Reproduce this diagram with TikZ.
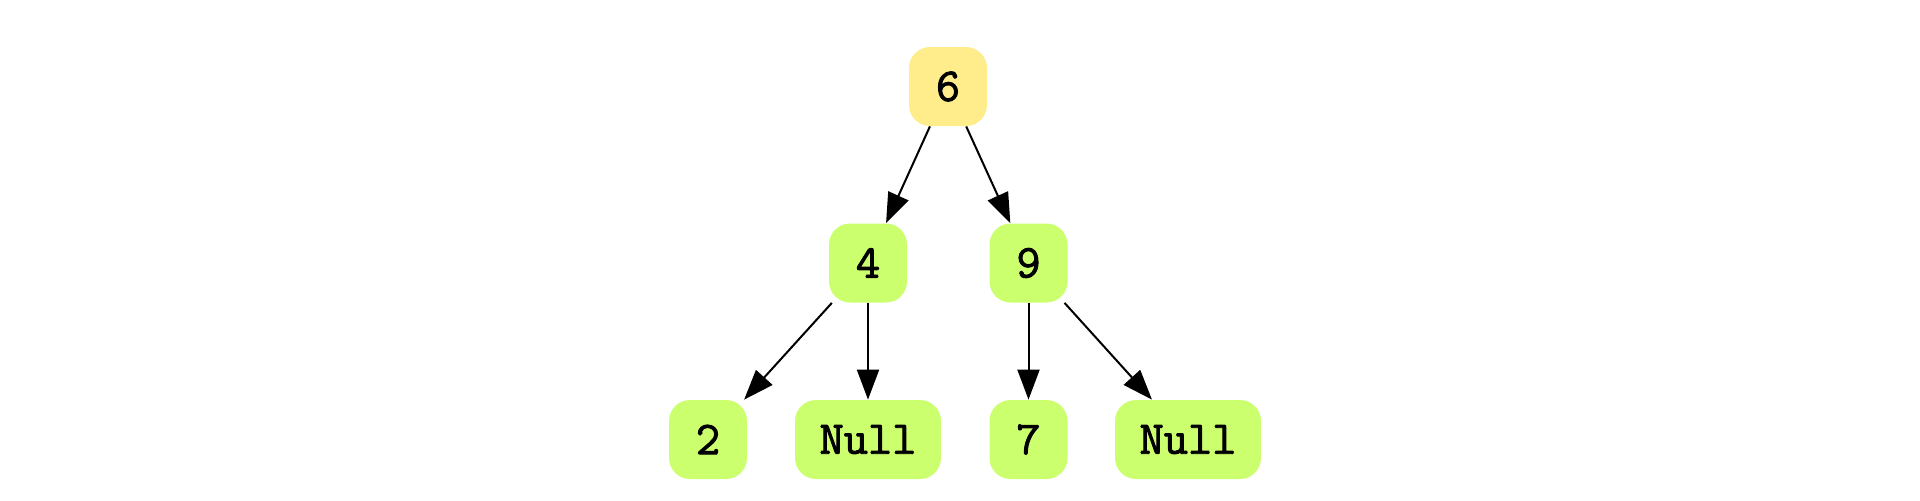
\documentclass[tikz,border=0pt]{standalone}
\usepackage{fontspec}
\newfontfamily\nodefont{Latin Modern Mono}[FakeBold=2]
\usetikzlibrary{arrows.meta}
\definecolor{nodeyellow}{HTML}{FFEC8B}
\definecolor{nodegreen}{HTML}{CCFF6E}
\tikzset{
  treenode/.style={rounded corners=10.5pt, inner sep=0pt, minimum height=39.5pt,
    font=\nodefont\fontsize{23.5}{23.5}\selectfont, text=black},
  small/.style={treenode, minimum width=39pt},
  wide/.style={treenode, minimum width=73pt},
  edge/.style={line width=1pt, -{Triangle[length=15pt,width=11pt]}}
}
\begin{document}
\begin{tikzpicture}[x=0.5pt,y=-0.5pt]
\useasboundingbox (0,0) rectangle (1920,500);
\node[small, fill=nodeyellow] (n6) at (948,86.5) {6};
\node[small, fill=nodegreen] (n4) at (868,263) {4};
\node[small, fill=nodegreen] (n9) at (1028.5,263) {9};
\node[small, fill=nodegreen] (n2) at (708,439.5) {2};
\node[wide, fill=nodegreen] (nl) at (868,439.5) {Null};
\node[small, fill=nodegreen] (n7) at (1028.5,439.5) {7};
\node[wide, fill=nodegreen] (nr) at (1188,439.5) {Null};
\draw[edge] (n6) -- (n4);
\draw[edge] (n6) -- (n9);
\draw[edge] (n4) -- (n2);
\draw[edge] (n4) -- (nl);
\draw[edge] (n9) -- (n7);
\draw[edge] (n9) -- (nr);
\end{tikzpicture}
\end{document}
